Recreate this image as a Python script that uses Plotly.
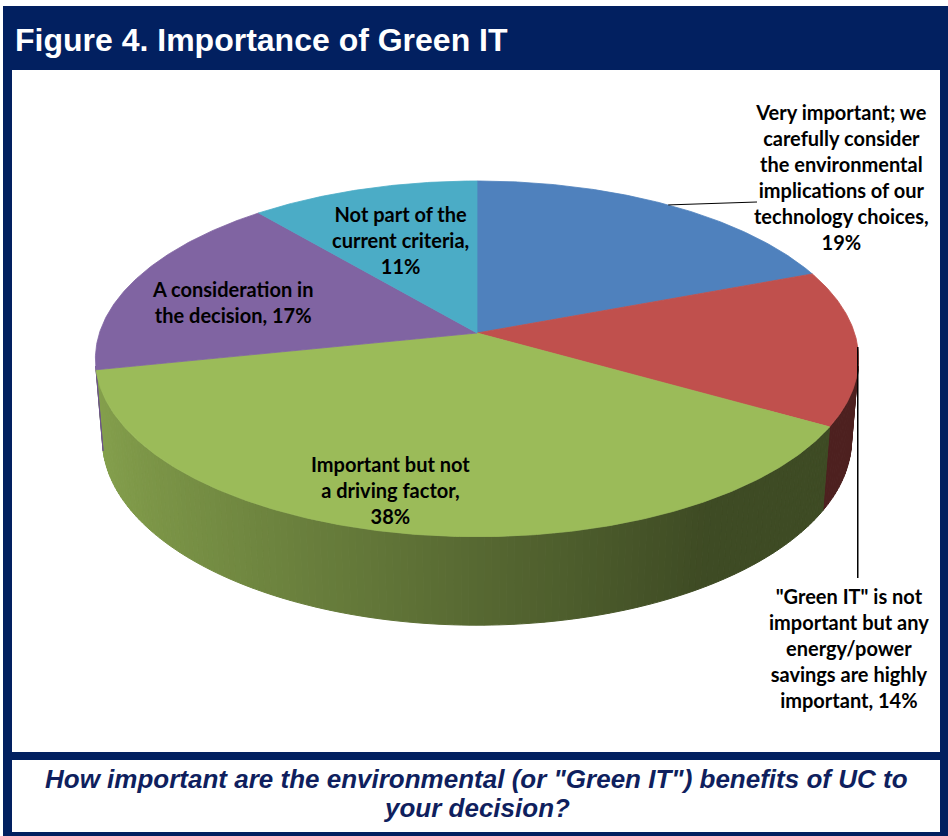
import numpy as np
import plotly.graph_objects as go

# ---------------- data ----------------
categories = [
    "Very important; we carefully consider the environmental implications of our technology choices",
    "\"Green IT\" is not important but any energy/power savings are highly important",
    "Important but not a driving factor",
    "A consideration in the decision",
    "Not part of the current criteria",
]
label_texts = [
    "Very important; we<br>carefully consider<br>the environmental<br>implications of our<br>technology choices,<br>19%",
    "\"Green IT\" is not<br>important but any<br>energy/power<br>savings are highly<br>important, 14%",
    "Important but not<br>a driving factor,<br>38%",
    "A consideration in<br>the decision, 17%",
    "Not part of the<br>current criteria,<br>11%",
]
values = [19, 14, 38, 17, 11]
colors = ["#4F81BD", "#C0504D", "#9BBB59", "#8064A2", "#4BACC6"]

title_text = "Figure 4. Importance of Green IT"
caption_lines = [
    "How important are the environmental (or \"Green IT\") benefits of UC to",
    "your decision?",
]

# ---------------- styling / geometry ----------------
W, H_FIG = 948, 836
NAVY = "#022060"
A = np.radians(27.46)
DIST = 6.105
FOC = 2305.0
DEPTH = 0.2416
CX, CY = 477.0, 333.0
s_a, c_a = np.sin(A), np.cos(A)


def proj(theta, z=0.0):
    X = np.sin(theta)
    Y = np.cos(theta)
    ry = Y + DIST * c_a
    rz = z - DIST * s_a
    yc = ry * s_a + rz * c_a
    zc = ry * c_a - rz * s_a
    return CX + FOC * X / zc, CY - FOC * yc / zc


def shade(hex_col, f):
    h = hex_col.lstrip("#")
    r, g, b = (int(h[i:i + 2], 16) for i in (0, 2, 4))
    return "rgb(%d,%d,%d)" % (round(r * f), round(g * f), round(b * f))


total = float(sum(values))
cum = np.concatenate([[0.0], np.cumsum(values)]) / total * 2 * np.pi
starts, ends = cum[:-1], cum[1:]

fig = go.Figure()

# visible wall range
tv = np.arccos(-1.0 / (DIST * c_a))
vis0, vis1 = tv, 2 * np.pi - tv

# walls (side faces) drawn first
for i in range(len(values)):
    a0, a1 = max(starts[i], vis0), min(ends[i], vis1)
    if a1 <= a0:
        continue
    n = max(1, int(np.degrees(a1 - a0) / 1.0))
    edges = np.linspace(a0, a1, n + 1)
    for k in range(n):
        ta, tb = edges[k], edges[k + 1]
        tt = np.linspace(ta, tb, 3)
        xt, yt = proj(tt, 0.0)
        xb, yb = proj(tt[::-1], -DEPTH)
        xs = list(xt) + list(xb) + [xt[0]]
        ys = list(yt) + list(yb) + [yt[0]]
        Xn = np.sin(0.5 * (ta + tb))
        f = max(0.40, 0.56 - 0.30 * Xn)
        col = shade(colors[i], f)
        fig.add_trace(go.Scatter(x=xs, y=ys, mode="lines", fill="toself",
                                 fillcolor=col, line=dict(color=col, width=1),
                                 hoverinfo="skip", showlegend=False))

# top faces
for i in range(len(values)):
    tt = np.linspace(starts[i], ends[i], max(8, int(np.degrees(ends[i] - starts[i]) * 2)))
    xa, ya = proj(tt, 0.0)
    xs = [CX] + list(xa) + [CX]
    ys = [CY] + list(ya) + [CY]
    fig.add_trace(go.Scatter(x=xs, y=ys, mode="lines", fill="toself",
                             fillcolor=colors[i], line=dict(color=colors[i], width=0.8),
                             name=categories[i], hoverinfo="name", showlegend=False))

# leader lines
mid = 0.5 * (starts + ends)
x0, y0 = proj(mid[0])
fig.add_trace(go.Scatter(x=[x0, 757], y=[y0, 202], mode="lines",
                         line=dict(color="black", width=1), hoverinfo="skip", showlegend=False))
x1, y1 = proj(mid[1])
fig.add_trace(go.Scatter(x=[x1, x1], y=[y1, 578], mode="lines",
                         line=dict(color="black", width=1.5), hoverinfo="skip", showlegend=False))

# data labels
label_pos = [(841, 177), (849, 648), (390, 490), (232, 302), (400, 240)]
LABEL_FONT = dict(family="Lato, Carlito, Calibri, sans-serif", size=20, color="black")
annotations = []
for (lx, ly), txt in zip(label_pos, label_texts):
    annotations.append(dict(x=lx, y=ly, xref="x", yref="y", text="<b>" + txt + "</b>",
                            showarrow=False, xanchor="center", yanchor="middle",
                            align="center", font=LABEL_FONT))

annotations.append(dict(x=13, y=40, xref="x", yref="y", text="<b>" + title_text + "</b>",
                        showarrow=False, xanchor="left", yanchor="middle",
                        font=dict(family="Liberation Sans, Arial, sans-serif", size=32, color="white")))
for ly, line in zip([779, 808], caption_lines):
    annotations.append(dict(x=476, y=ly, xref="x", yref="y", text="<b><i>" + line + "</i></b>",
                            showarrow=False, xanchor="center", yanchor="middle", align="center",
                            font=dict(family="Liberation Sans, Arial, sans-serif", size=26,
                                      color="#0F1F5E")))

shapes = [
    dict(type="rect", xref="x", yref="y", x0=3, x1=948, y0=6, y1=836,
         fillcolor=NAVY, line=dict(width=0), layer="below"),
    dict(type="rect", xref="x", yref="y", x0=12, x1=940, y0=70, y1=752,
         fillcolor="white", line=dict(width=0), layer="below"),
    dict(type="rect", xref="x", yref="y", x0=12, x1=940, y0=760, y1=832,
         fillcolor="white", line=dict(width=0), layer="below"),
]

fig.update_layout(
    width=W, height=H_FIG,
    margin=dict(l=0, r=0, t=0, b=0),
    paper_bgcolor="white", plot_bgcolor="white",
    xaxis=dict(range=[0, W], visible=False, fixedrange=True),
    yaxis=dict(range=[H_FIG, 0], visible=False, fixedrange=True),
    shapes=shapes, annotations=annotations,
    showlegend=False,
)

fig.write_html("out.html")
